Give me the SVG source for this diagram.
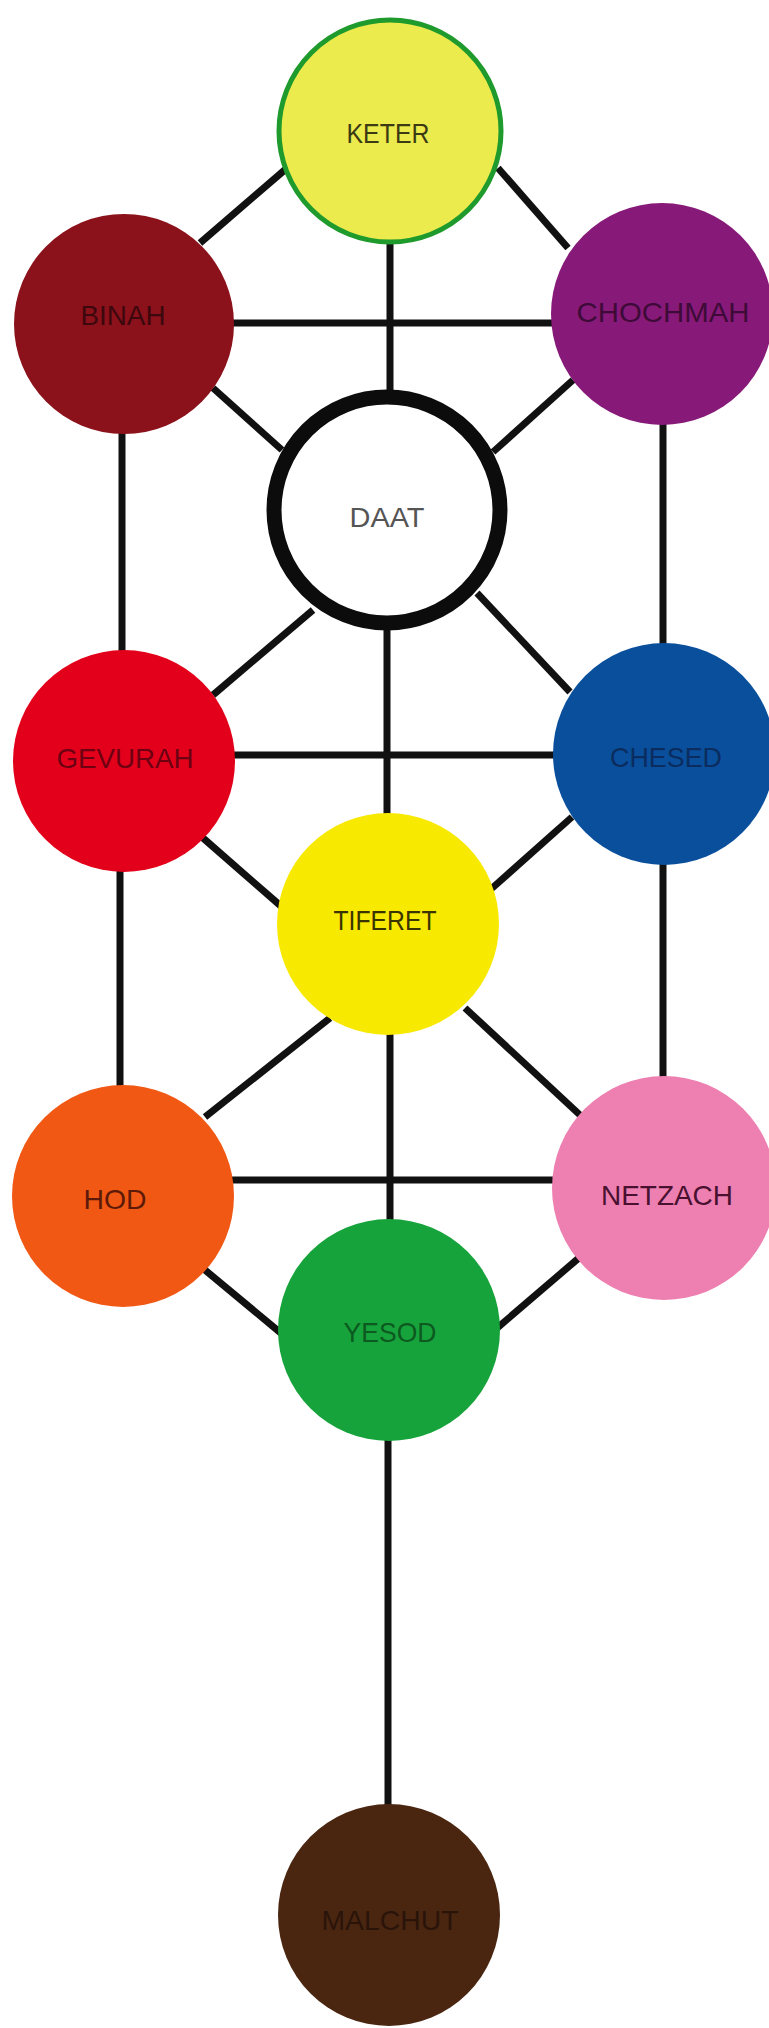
<svg xmlns="http://www.w3.org/2000/svg" width="769" height="2028" viewBox="0 0 769 2028">
<style>
.bg{fill:#ffffff}
.c line{stroke:#111111;stroke-width:7;stroke-linecap:butt}
.lbl{font-family:"Liberation Sans",Arial,sans-serif;font-size:28px;text-anchor:middle}
</style>
<rect class="bg" x="0" y="0" width="769" height="2028"/>
<g id="connectors" class="c">
<line x1="287" y1="168" x2="200" y2="243"/>
<line x1="498" y1="168" x2="568" y2="248"/>
<line x1="390" y1="240" x2="390" y2="395"/>
<line x1="230" y1="323" x2="556" y2="323"/>
<line x1="213" y1="388" x2="282" y2="450"/>
<line x1="573" y1="380" x2="493" y2="452"/>
<line x1="122" y1="430" x2="122" y2="652"/>
<line x1="663" y1="420" x2="663" y2="645"/>
<line x1="313" y1="610" x2="213" y2="695"/>
<line x1="477" y1="593" x2="570" y2="692"/>
<line x1="387" y1="625" x2="387" y2="815"/>
<line x1="230" y1="755" x2="556" y2="755"/>
<line x1="203" y1="838" x2="282" y2="907"/>
<line x1="572" y1="817" x2="490" y2="890"/>
<line x1="120" y1="870" x2="120" y2="1088"/>
<line x1="663" y1="862" x2="663" y2="1080"/>
<line x1="330" y1="1018" x2="205" y2="1117"/>
<line x1="465" y1="1008" x2="580" y2="1115"/>
<line x1="228" y1="1180" x2="556" y2="1180"/>
<line x1="390" y1="1030" x2="390" y2="1225"/>
<line x1="205" y1="1270" x2="282" y2="1334"/>
<line x1="580" y1="1257" x2="496" y2="1329"/>
<line x1="388" y1="1435" x2="388" y2="1810"/>
</g>
<g id="keter"><circle cx="390" cy="131" r="111" fill="#ebeb4e" stroke="#1f9a2c" stroke-width="5"/><text class="lbl" x="388" y="143" fill="#3b3a12" textLength="83" lengthAdjust="spacingAndGlyphs">KETER</text></g>
<g id="binah"><circle cx="124" cy="324" r="110" fill="#8b111b"/><text class="lbl" x="123" y="325" fill="#3d080d" textLength="85" lengthAdjust="spacingAndGlyphs">BINAH</text></g>
<g id="chochmah"><circle cx="662" cy="314" r="111" fill="#871a79"/><text class="lbl" x="663" y="322" fill="#3e0a37" textLength="173" lengthAdjust="spacingAndGlyphs">CHOCHMAH</text></g>
<g id="daat"><circle cx="387" cy="510" r="113" fill="#ffffff" stroke="#0c0c0c" stroke-width="15"/><text class="lbl" x="387" y="527" fill="#555555" textLength="75" lengthAdjust="spacingAndGlyphs">DAAT</text></g>
<g id="gevurah"><circle cx="124" cy="761" r="111" fill="#e3001b"/><text class="lbl" x="125" y="768" fill="#6e0012" textLength="137" lengthAdjust="spacingAndGlyphs">GEVURAH</text></g>
<g id="chesed"><circle cx="664" cy="754" r="111" fill="#0a4f9c"/><text class="lbl" x="666" y="767" fill="#0a2c5e" textLength="112" lengthAdjust="spacingAndGlyphs">CHESED</text></g>
<g id="tiferet"><circle cx="388" cy="924" r="111" fill="#f8e900"/><text class="lbl" x="385" y="930" fill="#3a3400" textLength="103" lengthAdjust="spacingAndGlyphs">TIFERET</text></g>
<g id="hod"><circle cx="123" cy="1196" r="111" fill="#f15814"/><text class="lbl" x="115" y="1209" fill="#5e1a08" textLength="63" lengthAdjust="spacingAndGlyphs">HOD</text></g>
<g id="netzach"><circle cx="664" cy="1188" r="112" fill="#ed80b1"/><text class="lbl" x="667" y="1205" fill="#4a1030" textLength="132" lengthAdjust="spacingAndGlyphs">NETZACH</text></g>
<g id="yesod"><circle cx="389" cy="1330" r="111" fill="#17a33b"/><text class="lbl" x="390" y="1342" fill="#0c5a20" textLength="93" lengthAdjust="spacingAndGlyphs">YESOD</text></g>
<g id="malchut"><circle cx="389" cy="1915" r="111" fill="#4a2611"/><text class="lbl" x="390" y="1930" fill="#2a140a" textLength="137" lengthAdjust="spacingAndGlyphs">MALCHUT</text></g>
</svg>
